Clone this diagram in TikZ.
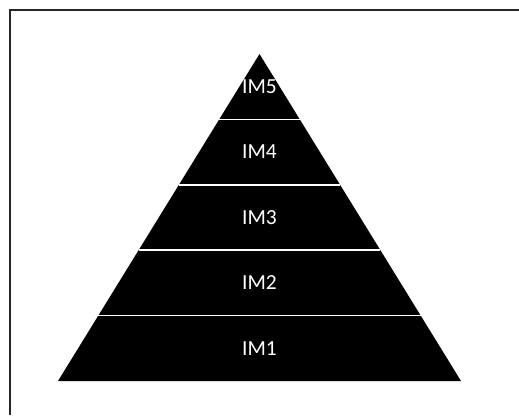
\documentclass[tikz,border=0pt]{standalone}
\usepackage{fontspec}
\setsansfont{Carlito}
\usetikzlibrary{calc}

\begin{document}
\begin{tikzpicture}[
    x=1pt, y=-1pt,
    level/.style={font=\sffamily\fontsize{21.5}{21.5}\selectfont, text=white, inner sep=0pt},
    divider/.style={draw=white, line width=1.6pt},
    frame/.style={draw=black!85, line width=1.3pt},
]
\useasboundingbox (0,0) rectangle (519,415);

% outer frame (left and top edges show)
\draw[frame] (519,10) -- (10,10) -- (10,415);

% pyramid
\coordinate (apex) at (259.5,54);
\coordinate (baseL) at (58,381);
\coordinate (baseR) at (461,381);
\fill[black] (apex) -- (baseL) -- (baseR) -- cycle;

% white bands between the levels
\foreach \t [count=\k] in {0.2,0.4,0.6,0.8} {
    \coordinate (dl\k) at ($(apex)!\t!(baseL)$);
    \coordinate (dr\k) at ($(apex)!\t!(baseR)$);
    \draw[divider] (dl\k) -- (dr\k);
}

\node[level] (im5) at (259.5,86.5) {IM5};
\node[level] (im4) at (259.5,152) {IM4};
\node[level] (im3) at (259.5,217.5) {IM3};
\node[level] (im2) at (259.5,283) {IM2};
\node[level] (im1) at (259.5,348.5) {IM1};

\end{tikzpicture}
\end{document}
